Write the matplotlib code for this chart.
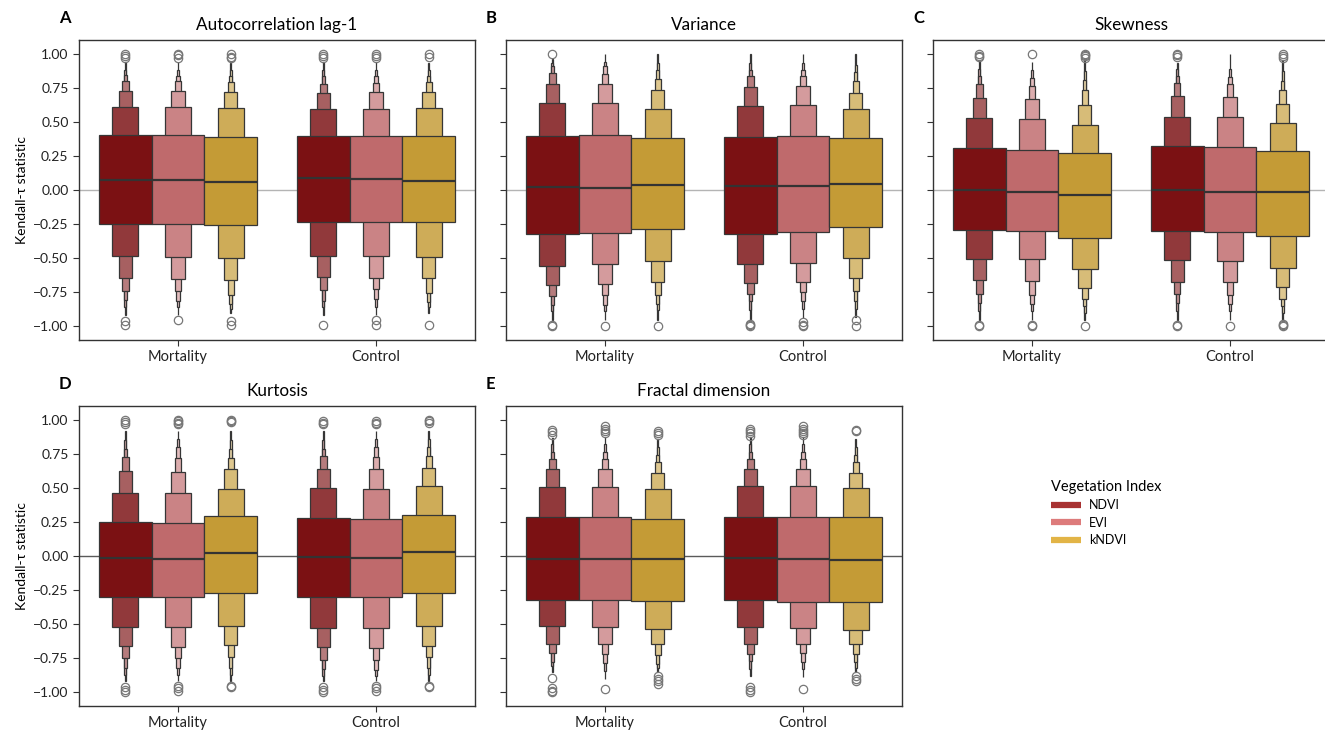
import numpy as np
import matplotlib
matplotlib.use('Agg')
import matplotlib.pyplot as plt
from matplotlib.colors import to_rgb
from matplotlib.lines import Line2D

plt.rcParams['font.family'] = ['Lato', 'DejaVu Sans']

groups = ['Mortality', 'Control']
indices = ['NDVI', 'EVI', 'kNDVI']
titles = ['Autocorrelation lag-1', 'Variance', 'Skewness', 'Kurtosis', 'Fractal dimension']
letters = ['A', 'B', 'C', 'D', 'E']

# rows: Mortality NDVI, EVI, kNDVI, Control NDVI, EVI, kNDVI
# columns: letter-value levels 0 (IQR) .. 6
acf_upper = [[0.400, 0.610, 0.726, 0.797, 0.842, 0.88, 0.94],
             [0.401, 0.609, 0.729, 0.797, 0.839, 0.88, 0.94],
             [0.391, 0.601, 0.719, 0.792, 0.839, 0.88, 0.93],
             [0.394, 0.597, 0.711, 0.780, 0.834, 0.88, 0.94],
             [0.396, 0.597, 0.716, 0.785, 0.834, 0.88, 0.94],
             [0.394, 0.601, 0.719, 0.790, 0.839, 0.88, 0.93]]
acf_lower = [[-0.249, -0.487, -0.643, -0.738, -0.810, -0.86, -0.92],
             [-0.249, -0.489, -0.653, -0.738, -0.812, -0.86, -0.92],
             [-0.254, -0.499, -0.658, -0.768, -0.836, -0.87, -0.90],
             [-0.235, -0.482, -0.638, -0.731, -0.812, -0.86, -0.92],
             [-0.237, -0.487, -0.643, -0.726, -0.800, -0.86, -0.92],
             [-0.237, -0.494, -0.648, -0.753, -0.819, -0.86, -0.90]]
acf_median = [0.076, 0.076, 0.056, 0.086, 0.083, 0.066]
acf_out = [[1.0, 0.985, 0.97, -0.96, -0.99],
           [1.0, 0.99, 0.97, -0.955],
           [1.0, 0.975, 0.965, -0.96, -0.99],
           [1.0, 0.98, 0.97, -0.99],
           [1.0, 0.985, 0.97, -0.955, -0.99],
           [1.0, 0.975, -0.99]]

var_upper = [[0.396, 0.636, 0.778, 0.858, 0.907, 0.935, 0.96],
             [0.401, 0.636, 0.778, 0.853, 0.907, 0.94, 1.0],
             [0.381, 0.597, 0.731, 0.814, 0.883, 0.93, 1.0],
             [0.389, 0.619, 0.758, 0.834, 0.883, 0.93, 1.0],
             [0.394, 0.623, 0.763, 0.839, 0.883, 0.93, 1.0],
             [0.384, 0.594, 0.711, 0.797, 0.868, 0.92, 1.0]]
var_lower = [[-0.323, -0.557, -0.699, -0.778, -0.840, -0.89, -0.95],
             [-0.315, -0.543, -0.687, -0.773, -0.840, -0.89, -0.95],
             [-0.284, -0.521, -0.675, -0.768, -0.834, -0.88, -0.95],
             [-0.320, -0.543, -0.685, -0.760, -0.817, -0.88, -0.95],
             [-0.308, -0.535, -0.677, -0.748, -0.812, -0.87, -0.94],
             [-0.274, -0.501, -0.645, -0.741, -0.812, -0.87, -0.93]]
var_median = [0.020, 0.017, 0.037, 0.027, 0.027, 0.044]
var_out = [[1.0, -0.99, -1.0],
           [-0.995],
           [-0.995],
           [-0.98, -0.99, -1.0],
           [-0.97, -0.99, -1.0],
           [-0.956, -1.0]]

skew_upper = [[0.308, 0.528, 0.677, 0.778, 0.834, 0.89, 0.944],
              [0.291, 0.521, 0.667, 0.760, 0.822, 0.88, 0.94],
              [0.271, 0.477, 0.623, 0.736, 0.804, 0.87, 0.944],
              [0.323, 0.538, 0.687, 0.782, 0.839, 0.89, 0.93],
              [0.318, 0.535, 0.680, 0.778, 0.829, 0.89, 1.0],
              [0.284, 0.489, 0.633, 0.731, 0.802, 0.87, 0.944]]
skew_lower = [[-0.293, -0.504, -0.658, -0.763, -0.829, -0.89, -0.95],
              [-0.301, -0.509, -0.670, -0.768, -0.834, -0.89, -0.95],
              [-0.355, -0.579, -0.719, -0.800, -0.848, -0.90, -0.95],
              [-0.303, -0.513, -0.672, -0.765, -0.829, -0.89, -0.95],
              [-0.308, -0.521, -0.677, -0.773, -0.836, -0.89, -0.95],
              [-0.335, -0.575, -0.711, -0.797, -0.853, -0.90, -0.95]]
skew_median = [0.000, -0.017, -0.034, 0.002, -0.012, -0.015]
skew_out = [[1.0, 0.98, 0.975, -0.99, -1.0],
            [1.0, -0.99, -1.0],
            [1.0, 0.99, 0.98, 0.97, -0.995],
            [1.0, 0.99, 0.975, -0.99, -1.0],
            [-0.995],
            [1.0, 0.985, 0.97, -0.98, -0.99, -1.0]]

kurt_upper = [[0.246, 0.461, 0.621, 0.723, 0.787, 0.85, 0.914],
              [0.239, 0.459, 0.618, 0.718, 0.797, 0.86, 0.92],
              [0.295, 0.491, 0.635, 0.721, 0.785, 0.85, 0.92],
              [0.278, 0.496, 0.638, 0.730, 0.785, 0.85, 0.92],
              [0.268, 0.493, 0.638, 0.728, 0.797, 0.86, 0.92],
              [0.302, 0.510, 0.645, 0.730, 0.797, 0.86, 0.92]]
kurt_lower = [[-0.300, -0.518, -0.660, -0.750, -0.824, -0.87, -0.92],
              [-0.300, -0.520, -0.665, -0.750, -0.819, -0.87, -0.92],
              [-0.273, -0.510, -0.655, -0.743, -0.819, -0.87, -0.92],
              [-0.297, -0.525, -0.670, -0.763, -0.831, -0.88, -0.92],
              [-0.297, -0.530, -0.677, -0.763, -0.836, -0.88, -0.92],
              [-0.270, -0.510, -0.660, -0.743, -0.819, -0.87, -0.92]]
kurt_median = [-0.016, -0.021, 0.023, -0.004, -0.011, 0.033]
kurt_out = [[0.995, 0.98, 0.965, -0.96, -0.98, -1.0],
            [1.0, 0.99, 0.975, 0.965, -0.955, -0.97, -0.99],
            [1.0, 0.99, 0.98, -0.955, -0.96],
            [0.99, 0.975, 0.965, -0.96, -0.98, -1.0],
            [0.99, 0.975, 0.965, -0.955, -0.97, -0.99],
            [1.0, 0.99, 0.975, -0.955, -0.96]]

frac_upper = [[0.285, 0.508, 0.638, 0.711, 0.763, 0.82, 0.865],
              [0.285, 0.508, 0.640, 0.713, 0.763, 0.82, 0.87],
              [0.273, 0.493, 0.608, 0.689, 0.743, 0.80, 0.86],
              [0.288, 0.513, 0.638, 0.711, 0.763, 0.82, 0.87],
              [0.288, 0.513, 0.640, 0.708, 0.763, 0.82, 0.87],
              [0.283, 0.496, 0.608, 0.689, 0.743, 0.80, 0.86]]
frac_lower = [[-0.322, -0.515, -0.643, -0.714, -0.775, -0.81, -0.85],
              [-0.324, -0.523, -0.645, -0.718, -0.782, -0.84, -0.90],
              [-0.332, -0.537, -0.648, -0.728, -0.792, -0.82, -0.85],
              [-0.322, -0.520, -0.643, -0.716, -0.770, -0.83, -0.88],
              [-0.334, -0.530, -0.645, -0.714, -0.775, -0.83, -0.89],
              [-0.339, -0.542, -0.648, -0.720, -0.779, -0.82, -0.85]]
frac_median = [-0.021, -0.021, -0.023, -0.018, -0.023, -0.028]
frac_out = [[0.925, 0.91, 0.89, -0.897, -0.97, -0.99, -1.0],
            [0.95, 0.935, 0.92, 0.90, -0.978],
            [0.915, 0.90, 0.89, -0.88, -0.90, -0.92, -0.94],
            [0.93, 0.915, 0.90, 0.88, -0.963, -0.985, -1.0],
            [0.95, 0.935, 0.92, 0.90, 0.885, -0.978],
            [0.925, 0.915, -0.88, -0.90, -0.92]]

panels = [(acf_upper, acf_lower, acf_median, acf_out),
          (var_upper, var_lower, var_median, var_out),
          (skew_upper, skew_lower, skew_median, skew_out),
          (kurt_upper, kurt_lower, kurt_median, kurt_out),
          (frac_upper, frac_lower, frac_median, frac_out)]

box_colors = ['#7b1113', '#bf6a6c', '#c49b36']
legend_colors = ['#a83232', '#dd7b7b', '#e2b446']
# how much each outer level is washed toward white
level_fade = [0.0, 0.17, 0.33, 0.45, 0.55, 0.62, 0.68]
edge_col = '#363636'

W, H = 1325, 730
fig = plt.figure(figsize=(W / 100, H / 100), dpi=100)

# axes boxes in pixels: left, top, width, height
boxes_px = [(79, 40, 396, 300), (506, 40, 396, 300), (933, 40, 396, 300),
            (79, 406, 396, 300), (506, 406, 396, 300)]
zero_cols = ['#b4b4b4', '#b4b4b4', '#b4b4b4', '#5a5a5a', '#5a5a5a']

hue_w = 0.8 / 3

for p, (upper, lower, median, outl) in enumerate(panels):
    l, t, w, h = boxes_px[p]
    ax = fig.add_axes([l / W, 1 - (t + h) / H, w / W, h / H])
    ax.axhline(0, color=zero_cols[p], lw=1, zorder=0)

    for b in range(6):
        g, j = divmod(b, 3)
        xc = g + (j - 1) * hue_w
        base = np.array(to_rgb(box_colors[j]))
        nlev = len(upper[b])
        # outer levels first so the IQR box sits on top
        for k in range(nlev - 1, -1, -1):
            col = base + level_fade[k] * (1 - base)
            bw = hue_w * 0.5 ** k
            ax.bar(xc, upper[b][k] - lower[b][k], width=bw, bottom=lower[b][k],
                   color=col, edgecolor=edge_col, linewidth=0.9, zorder=2)
        ax.plot([xc - hue_w / 2, xc + hue_w / 2], [median[b], median[b]],
                color='#333333', lw=1.6, zorder=3, solid_capstyle='butt')
        ax.plot([xc] * len(outl[b]), outl[b], 'o', ms=6, mfc='none',
                mec='#777777', mew=0.9, zorder=4)

    ax.set_xlim(-0.5, 1.5)
    ax.set_ylim(-1.1, 1.1)
    ax.set_xticks([0, 1])
    ax.set_xticklabels(groups, fontsize=10.5)
    ax.set_yticks(np.arange(-1, 1.01, 0.25))
    if p in (0, 3):
        ax.tick_params(axis='y', labelsize=10)
        ax.set_ylabel('Kendall-\u03c4 statistic', fontsize=10)
    else:
        ax.set_yticklabels([])
    ax.tick_params(length=4, width=0.8, color='#333333', labelcolor='#222222')
    ax.tick_params(axis='x', pad=3.5)
    for s in ax.spines.values():
        s.set_color('#333333')
        s.set_linewidth(1)
    ax.set_title(titles[p], fontsize=12.3, pad=7)
    fig.text((l - 20) / W, 1 - (t - 22) / H, letters[p], fontsize=12,
             fontweight='bold', ha='left', va='center')

handles = [Line2D([], [], color=c, lw=4.5, solid_capstyle='butt') for c in legend_colors]
fig.legend(handles, indices, title='Vegetation Index', frameon=False,
           loc='center left', bbox_to_anchor=(1040 / W, 1 - 513 / H),
           fontsize=9, title_fontsize=10.5, handlelength=2.4,
           handletextpad=0.6, labelspacing=0.45, alignment='left')

fig.savefig('out.png', dpi=100)
